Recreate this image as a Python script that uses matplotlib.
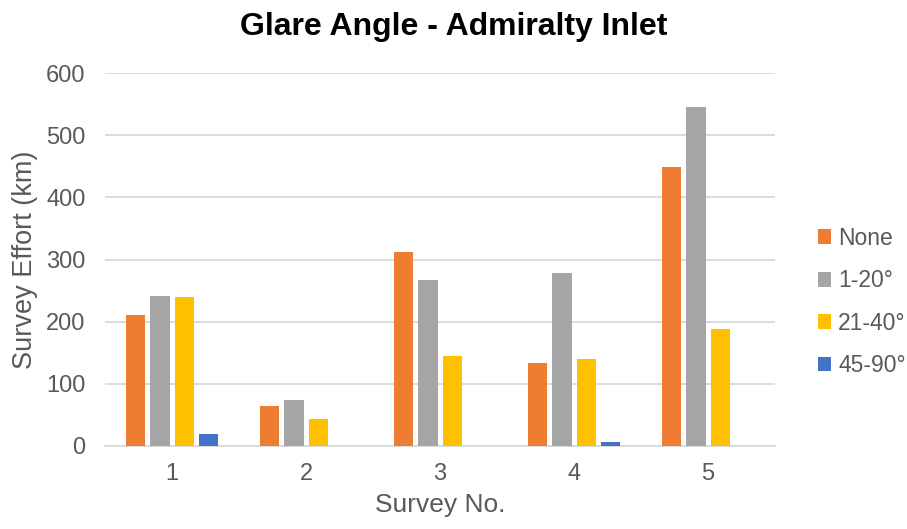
import matplotlib
matplotlib.use("Agg")
import matplotlib.pyplot as plt
import numpy as np
from matplotlib.patches import Patch

plt.rcParams['font.family'] = ['Liberation Sans', 'DejaVu Sans']

surveys = ["1", "2", "3", "4", "5"]
series_names = ["None", "1-20°", "21-40°", "45-90°"]
none_vals = [210, 64, 312, 134, 449]
deg1_20 = [242, 74, 267, 278, 546]
deg21_40 = [239, 44, 145, 140, 189]
deg45_90 = [20, 0, 0, 6, 0]
colors = ["#ED7D31", "#A5A5A5", "#FFC000", "#4472C4"]

values = [none_vals, deg1_20, deg21_40, deg45_90]

fig = plt.figure(figsize=(9.07, 5.29), dpi=100)
ax = fig.add_axes([0.1158, 0.1569, 0.7387, 0.7051])

x = np.arange(1, len(surveys) + 1)
step = 0.181
width = 0.144
for i, (vals, c) in enumerate(zip(values, colors)):
    ax.bar(x + (i - 1.5) * step, vals, width=width, color=c, zorder=3)

ax.set_xlim(0.5, 5.5)
ax.set_ylim(0, 600)
ax.set_yticks(range(0, 601, 100))
ax.set_xticks(x)
ax.set_xticklabels(surveys)
ax.yaxis.grid(True, color="#D9D9D9", linewidth=1.3, zorder=0)
for s in ["top", "right", "left"]:
    ax.spines[s].set_visible(False)
ax.spines["bottom"].set_color("#D9D9D9")
ax.spines["bottom"].set_linewidth(1.3)
ax.tick_params(axis="both", length=0, labelsize=17, colors="#595959")
ax.tick_params(axis="y", pad=14)
ax.tick_params(axis="x", pad=12)

ax.set_xlabel("Survey No.", fontsize=19, color="#595959", labelpad=6)
ax.set_ylabel("Survey Effort (km)", fontsize=19.5, color="#595959", labelpad=6)
fig.suptitle("Glare Angle - Admiralty Inlet", fontsize=23, fontweight="bold", x=0.5, y=0.978)

handles = [Patch(facecolor=c, label=n) for c, n in zip(colors, series_names)]
leg = fig.legend(handles=handles, loc="center left", bbox_to_anchor=(0.9015, 0.429),
                 frameon=False, fontsize=16.5, handlelength=0.6, handleheight=0.6,
                 handletextpad=0.3, labelspacing=0.85, labelcolor="#595959",
                 borderpad=0.0, borderaxespad=0.0)

fig.savefig("out.png", dpi=100)
